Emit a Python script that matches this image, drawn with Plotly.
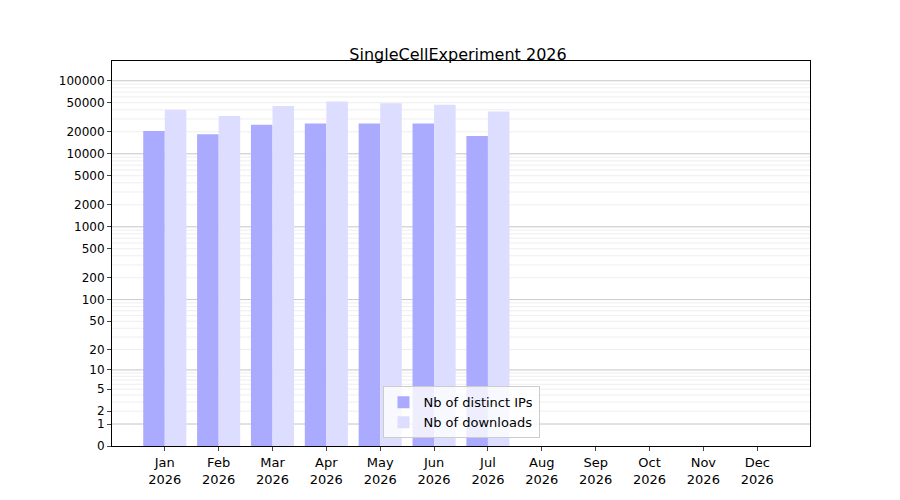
import numpy as np
import plotly.graph_objects as go

months = ["Jan", "Feb", "Mar", "Apr", "May", "Jun", "Jul", "Aug", "Sep", "Oct", "Nov", "Dec"]
distinct_ips = [20500, 18500, 25000, 26000, 26000, 26000, 17500]
downloads = [40000, 33000, 45000, 52000, 49000, 47000, 38000]
tick_values = [0, 1, 2, 5, 10, 20, 50, 100, 200, 500, 1000, 2000, 5000,
                10000, 20000, 50000, 100000]
decades = [1, 10, 100, 1000, 10000, 100000]

def tr(v):
    # symlog-like transform: log10(1 + v)
    return np.log10(1 + np.asarray(v, dtype=float))

labels = [f"{m}<br>2026" for m in months]
minor_vals = [m * d for d in [1, 10, 100, 1000, 10000, 100000] for m in range(1, 10)]

fig = go.Figure()
fig.add_trace(go.Bar(x=labels[:len(distinct_ips)], y=tr(distinct_ips),
                     name="Nb of distinct IPs", marker_color="#aaaaff",
                     marker_line_width=0))
fig.add_trace(go.Bar(x=labels[:len(downloads)], y=tr(downloads),
                     name="Nb of downloads", marker_color="#ddddff",
                     marker_line_width=0))

# grid lines: light at every multiple, darker at decades
for v in minor_vals:
    fig.add_shape(type="line", xref="paper", x0=0, x1=1, y0=tr(v), y1=tr(v),
                  line=dict(color="#eeeeee", width=1), layer="below")
for v in decades:
    fig.add_shape(type="line", xref="paper", x0=0, x1=1, y0=tr(v), y1=tr(v),
                  line=dict(color="#cccccc", width=1), layer="below")

fig.update_layout(
    width=900, height=500,
    paper_bgcolor="white", plot_bgcolor="white",
    margin=dict(l=104, r=98, t=53, b=62),
    title=dict(text="SingleCellExperiment 2026", x=0.5, xanchor="center",
               y=0.908, yanchor="middle",
               font=dict(family="DejaVu Sans", size=16, color="black")),
    font=dict(family="DejaVu Sans", size=13, color="black"),
    barmode="group", bargap=0.2, bargroupgap=0,
    showlegend=True,
    legend=dict(x=0.5, y=0.02, xanchor="center", yanchor="bottom",
                bgcolor="rgba(255,255,255,0.8)", bordercolor="#cccccc",
                borderwidth=1, font=dict(size=13)),
    xaxis=dict(categoryorder="array", categoryarray=labels,
               range=[-0.98, 11.98], showline=True, linecolor="black",
               mirror=True, ticks="outside", ticklen=4, showgrid=False,
               automargin=False),
    yaxis=dict(range=[0, 5.27], tickmode="array", tickvals=list(tr(tick_values)),
               ticktext=[str(v) for v in tick_values], showline=True,
               linecolor="black", mirror=True, ticks="outside", ticklen=4,
               showgrid=False, zeroline=False, tickfont=dict(size=12),
               automargin=False),
)
fig.write_html("out.html")
